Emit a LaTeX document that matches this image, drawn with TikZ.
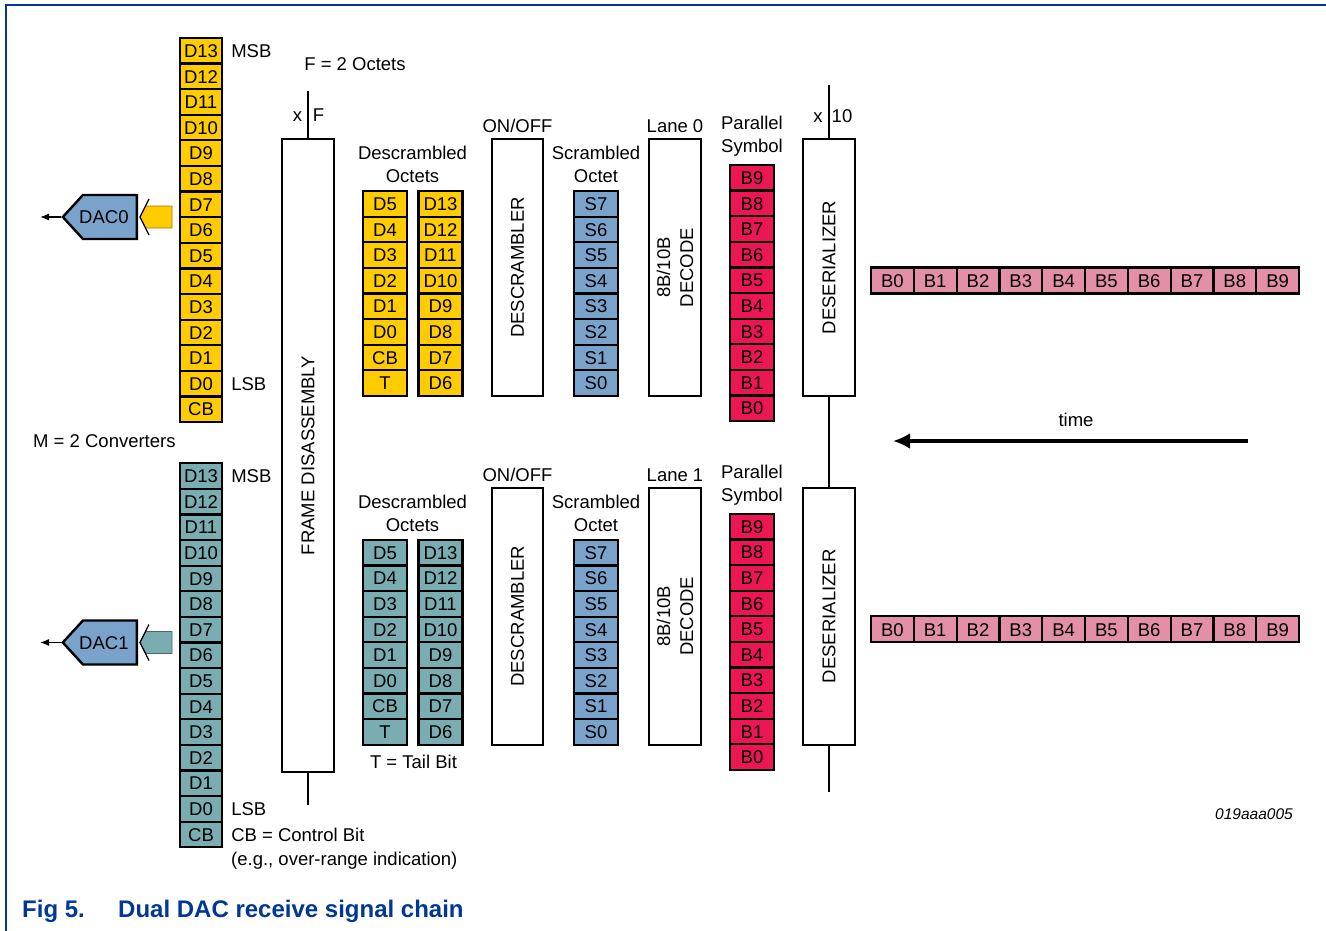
\documentclass[tikz,border=0pt]{standalone}
\usepackage{fontspec}
\setmainfont{Liberation Sans}
\usepackage{tikz}
\usetikzlibrary{shapes,arrows.meta,positioning,calc}

\definecolor{gold}{RGB}{255,204,0}
\definecolor{dteal}{RGB}{122,173,178}
\definecolor{steel}{RGB}{122,163,204}
\definecolor{crim}{RGB}{236,22,84}
\definecolor{rose}{RGB}{228,143,168}
\definecolor{nxpblue}{RGB}{0,56,148}

\newcommand{\lblfont}{\fontsize{18.5pt}{23pt}\selectfont}
\newcommand{\capfont}{\fontsize{24pt}{28pt}\selectfont\bfseries}

\tikzstyle{txt} = [inner sep=0pt, text height=13.4pt, text depth=0pt, font=\lblfont]
\tikzstyle{cell} = [txt, draw, line width=2.2pt, minimum width=44pt, minimum height=25.6pt]
\tikzstyle{blk} = [draw, line width=2.4pt, rotate=90, minimum height=52pt, inner sep=0pt, font=\lblfont, align=center]
\tikzstyle{dac} = [txt, signal, signal to=west, signal pointer angle=95, draw, line width=2.4pt, fill=steel, minimum width=74pt, minimum height=44pt, anchor=east]
\tikzstyle{wire} = [line width=1.3pt]
\tikzstyle{arrow} = [line width=1.3pt, -{Latex[length=9pt,width=7pt]}]

\begin{document}
\begin{tikzpicture}[x=1pt, y=-1pt]
    \useasboundingbox (0,0) rectangle (1326,931);
    \draw[nxpblue, line width=1.2pt] (6,931) -- (6,5) -- (1326,5);

    % converter words
    \foreach \i [count=\k from 0] in {13,12,...,0}
        \node[cell, fill=gold, minimum width=42pt] (a\i) at (201,50.8+25.6*\k) {D\i};
    \node[cell, fill=gold, minimum width=42pt] (acb) at (201,409.2) {CB};
    \foreach \i [count=\k from 0] in {13,12,...,0}
        \node[cell, fill=dteal, minimum width=42pt] (b\i) at (201,476+25.6*\k) {D\i};
    \node[cell, fill=dteal, minimum width=42pt] (bcb) at (201,834.4) {CB};
    \node[txt, right=8pt of a13] (msb0) {MSB};
    \node[txt, right=8pt of a0] (lsb0) {LSB};
    \node[txt, right=8pt of b13] (msb1) {MSB};
    \node[txt, right=8pt of b0] (lsb1) {LSB};
    \node[txt, right=8pt of bcb] (cbnote) {CB = Control Bit};
    \node[txt, anchor=west] (cbnote2) at (231,858.5) {(e.g., over-range indication)};
    \node[txt, anchor=west] (mconv) at (33,441) {M = 2 Converters};

    % DACs
    \node[dac] (dac0) at (138,217) {\kern-12pt DAC0};
    \node[dac] (dac1) at (138,642.5) {\kern-12pt DAC1};
    \coordinate (out0) at (40,217);
    \coordinate (out1) at (40,642.5);
    \draw[arrow] (dac0.west) -- (out0);
    \draw[arrow] (dac1.west) -- (out1);
    \filldraw[fill=gold, draw=gold!60!black, line width=0.6pt] (172,206) -- (145.5,206) -- (140,217) -- (145.5,228) -- (172,228) -- cycle;
    \draw[wire] (149,199) -- (140,217) -- (149,235);
    \filldraw[fill=dteal, draw=dteal!60!black, line width=0.6pt] (172,631.5) -- (145.5,631.5) -- (140,642.5) -- (145.5,653.5) -- (172,653.5) -- cycle;
    \draw[wire] (149,624.5) -- (140,642.5) -- (149,660.5);

    % frame disassembly
    \node[blk, minimum width=633pt] (fd) at (308,455.5) {FRAME DISASSEMBLY};
    \coordinate (fdin) at (308,91);
    \coordinate (fdout) at (308,805);
    \draw[wire] (fdin) -- (fd.east);
    \draw[wire] (fd.west) -- (fdout);
    \node[txt] (xf1) at (297.5,115) {x};
    \node[txt] (xf2) at (318.5,115) {F};
    \node[txt] (foct) at (355,64) {F = 2 Octets};

    % the two lanes
    \foreach \l/\dy/\col in {0/0/gold, 1/348.8/dteal} {
        \node[txt] (dsa\l) at (412.5,153+\dy) {Descrambled};
        \node[txt] (dsb\l) at (412.5,176+\dy) {Octets};
        \foreach \i/\j [count=\k from 0] in {D5/D13,D4/D12,D3/D11,D2/D10,D1/D9,D0/D8,CB/D7,T/D6} {
            \node[cell, fill=\col] (ol\l-\k) at (385,203.8+25.6*\k+\dy) {\i};
            \node[cell, fill=\col] (or\l-\k) at (440.5,203.8+25.6*\k+\dy) {\j};
        }
        \node[txt] (onoff\l) at (517.5,126+\dy) {ON/OFF};
        \node[blk, minimum width=257pt, minimum height=51pt] (dsc\l) at (517.5,267.5+\dy) {DESCRAMBLER};
        \node[txt] (sca\l) at (596,153+\dy) {Scrambled};
        \node[txt] (scb\l) at (596,176+\dy) {Octet};
        \foreach \i [count=\k from 0] in {7,6,...,0}
            \node[cell, fill=steel] (s\l-\i) at (596,203.8+25.6*\k+\dy) {S\i};
        \node[txt] (lane\l) at (675,126+\dy) {Lane \l};
        \node[blk, minimum width=257pt] (dec\l) at (675,267.5+\dy) {8B/10B\\DECODE};
        \node[txt] (psa\l) at (752,122.5+\dy) {Parallel};
        \node[txt] (psb\l) at (752,145.5+\dy) {Symbol};
        \foreach \i [count=\k from 0] in {9,8,...,0}
            \node[cell, fill=crim] (p\l-\i) at (752,177.8+25.6*\k+\dy) {B\i};
        \node[blk, minimum width=257pt] (des\l) at (829,267.5+\dy) {DESERIALIZER};
        \foreach \i in {0,...,9}
            \node[cell, fill=rose, minimum width=42.8pt, minimum height=26pt] (r\l-\i) at (892.4+42.8*\i,280.5+\dy) {B\i};
    }
    \node[txt] (tail) at (413.5,762) {T = Tail Bit};

    % deserializer clock line
    \coordinate (desin) at (829,85);
    \coordinate (desout) at (829,792);
    \draw[wire] (desin) -- (des0.east);
    \draw[wire] (des0.west) -- (des1.east);
    \draw[wire] (des1.west) -- (desout);
    \node[txt] (xd1) at (818,115.5) {x};
    \node[txt] (xd2) at (842,115.5) {10};

    % time
    \coordinate (tfrom) at (1248,441);
    \coordinate (tto) at (893,441);
    \draw[line width=4pt, -{Latex[length=17pt,width=16pt]}] (tfrom) -- (tto);
    \node[txt] (time) at (1076,420) {time};

    \node[anchor=base west, inner sep=0pt, font=\fontsize{15.5pt}{18pt}\selectfont\itshape] (figid) at (1215,819) {019aaa005};
    \node[anchor=base west, inner sep=0pt, font=\capfont, text=nxpblue] (fig) at (22,917) {Fig 5.};
    \node[anchor=base west, inner sep=0pt, font=\capfont, text=nxpblue] (figt) at (118,917) {Dual DAC receive signal chain};
\end{tikzpicture}
\end{document}
